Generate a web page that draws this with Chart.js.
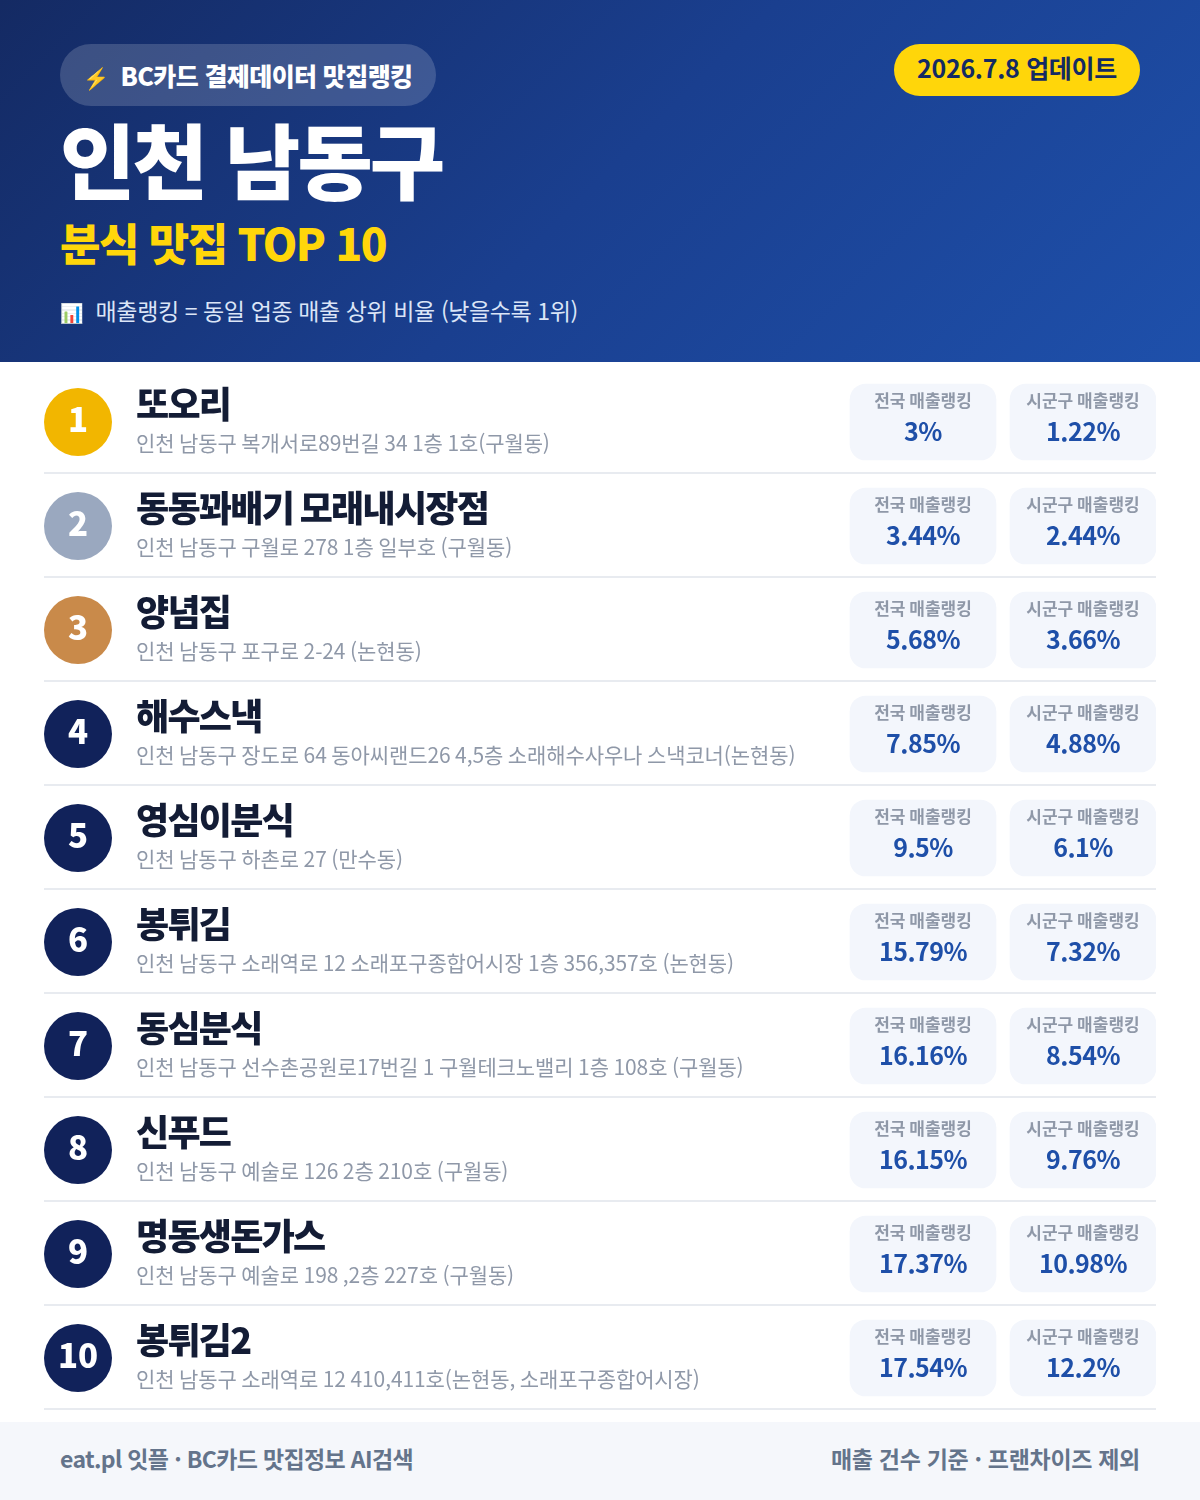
<!DOCTYPE html>
<html lang="ko">
<head>
<meta charset="utf-8">
<title>인천 남동구 분식 맛집 TOP 10</title>
<script src="https://cdn.jsdelivr.net/npm/chart.js@4"></script>
<style>
* { box-sizing: border-box; margin: 0; padding: 0; }
html, body { width: 1200px; height: 1500px; background: #fff; overflow: hidden; }
body { font-family: "Noto Sans CJK KR", "Noto Sans", sans-serif; position: relative; }
#head { position: absolute; left: 0; top: 0; width: 1200px; height: 362px; color: #fff;
  background: linear-gradient(135deg, #142a63 0%, #1a3f8f 50%, #1e50ab 100%); }
#head div { position: absolute; white-space: nowrap; }
#pill { left: 60px; top: 44px; width: 376px; height: 62px; border-radius: 31px; background: rgba(255,255,255,.17);
  font-size: 25px; font-weight: 900; line-height: 62px; letter-spacing: -.6px; padding-left: 23px; }
#pill span { margin-right: 12px; font-size: 21px; }
#date { left: 894px; top: 44px; width: 246px; height: 52px; border-radius: 26px; background: #ffd60a; color: #142a63;
  font-size: 25px; font-weight: 700; line-height: 46px; text-align: center; letter-spacing: -.3px; }
#title { left: 60px; top: 103px; font-size: 82px; font-weight: 900; line-height: 110px; letter-spacing: -3px; }
#sub { left: 60px; top: 211px; font-size: 44px; font-weight: 900; line-height: 62px; color: #ffd60a; letter-spacing: -1.5px; }
#note { left: 60px; top: 292px; font-size: 23px; line-height: 36px; color: #dbe5f7; letter-spacing: -.4px; }
#note span { margin-right: 12px; font-size: 19px; }
#list { position: absolute; left: 0; top: 0; pointer-events: none; }
#foot { position: absolute; left: 0; top: 1422px; width: 1200px; height: 78px; background: #f5f7fb; color: #64748b;
  font-size: 23px; font-weight: 700; line-height: 72px; letter-spacing: -.3px; }
#foot .l { position: absolute; left: 60px; letter-spacing: -.65px; }
#foot .r { position: absolute; right: 60px; }
</style>
</head>
<body>
<div id="head">
  <div id="pill"><span>⚡</span>BC카드 결제데이터 맛집랭킹</div>
  <div id="date">2026.7.8 업데이트</div>
  <div id="title">인천 남동구</div>
  <div id="sub">분식 맛집 TOP 10</div>
  <div id="note"><span>📊</span>매출랭킹 = 동일 업종 매출 상위 비율 (낮을수록 1위)</div>
</div>
<div id="foot"><span class="l">eat.pl 잇플 · BC카드 맛집정보 AI검색</span><span class="r">매출 건수 기준 · 프랜차이즈 제외</span></div>
<div style="position:absolute;left:0;top:0;width:1200px;height:1500px;pointer-events:none"><canvas id="list"></canvas></div>
<script>
const names = ['또오리', '동동꽈배기 모래내시장점', '양념집', '해수스낵', '영심이분식', '봉튀김', '동심분식', '신푸드', '명동생돈가스', '봉튀김2'];
const addresses = [
  '인천 남동구 복개서로89번길 34 1층 1호(구월동)',
  '인천 남동구 구월로 278 1층 일부호 (구월동)',
  '인천 남동구 포구로 2-24 (논현동)',
  '인천 남동구 장도로 64 동아씨랜드26 4,5층 소래해수사우나 스낵코너(논현동)',
  '인천 남동구 하촌로 27 (만수동)',
  '인천 남동구 소래역로 12 소래포구종합어시장 1층 356,357호 (논현동)',
  '인천 남동구 선수촌공원로17번길 1 구월테크노밸리 1층 108호 (구월동)',
  '인천 남동구 예술로 126 2층 210호 (구월동)',
  '인천 남동구 예술로 198 ,2층 227호 (구월동)',
  '인천 남동구 소래역로 12 410,411호(논현동, 소래포구종합어시장)'
];
const nationalRank = [3, 3.44, 5.68, 7.85, 9.5, 15.79, 16.16, 16.15, 17.37, 17.54];
const localRank = [1.22, 2.44, 3.66, 4.88, 6.1, 7.32, 8.54, 9.76, 10.98, 12.2];
const nationalLabel = '전국 매출랭킹';
const localLabel = '시군구 매출랭킹';

const FONT = '"Noto Sans CJK KR", "Noto Sans", sans-serif';
const medal = ['#f2b600', '#9aa8bf', '#c98a4a'];
const navy = '#11225a';
// x 축은 화면 픽셀과 같게 둔다 (44 ~ 1156)
const circleX = 78, textX = 136;
const cardA = [850, 996], cardB = [1010, 1156];

// 행 사이 구분선: 행 경계보다 1px 위에 그린다
const rowLines = {
  id: 'rowLines',
  beforeDatasetsDraw(chart) {
    const { ctx, chartArea, scales: { y } } = chart;
    ctx.save();
    ctx.fillStyle = '#e8ebf0';
    names.forEach((n, i) => {
      ctx.fillRect(chartArea.left, y.getPixelForValue(i + 0.5) - 2, chartArea.right - chartArea.left, 2);
    });
    ctx.restore();
  }
};

const rowText = {
  id: 'rowText',
  afterDatasetsDraw(chart) {
    const { ctx, scales: { x, y } } = chart;
    ctx.save();
    ctx.textBaseline = 'middle';
    names.forEach((name, i) => {
      const cy = y.getPixelForValue(i);
      ctx.textAlign = 'center';
      ctx.fillStyle = '#fff';
      ctx.letterSpacing = '0px';
      ctx.font = '900 33px ' + FONT;
      ctx.fillText(String(i + 1), x.getPixelForValue(circleX), cy - 3);
      ctx.textAlign = 'left';
      ctx.fillStyle = '#131c35';
      ctx.letterSpacing = '-1.7px';
      ctx.font = '900 36px ' + FONT;
      ctx.fillText(name, x.getPixelForValue(textX), cy - 18);
      ctx.fillStyle = '#8f98a8';
      ctx.letterSpacing = '-0.1px';
      ctx.font = '400 21px ' + FONT;
      ctx.fillText(addresses[i], x.getPixelForValue(textX), cy + 21);
      [[cardA, nationalLabel, nationalRank[i]], [cardB, localLabel, localRank[i]]].forEach(([c, label, v]) => {
        const mid = x.getPixelForValue((c[0] + c[1]) / 2);
        ctx.textAlign = 'center';
        ctx.fillStyle = '#8f98a8';
        ctx.letterSpacing = '0px';
        ctx.font = '700 17px ' + FONT;
        ctx.fillText(label, mid, cy - 21);
        ctx.fillStyle = '#1e4fa8';
        ctx.letterSpacing = '-0.5px';
        ctx.font = '700 25px ' + FONT;
        ctx.fillText(v + '%', mid, cy + 9);
      });
    });
    ctx.restore();
  }
};

new Chart(document.getElementById('list'), {
  data: {
    labels: names,
    datasets: [
      { type: 'scatter', data: names.map((n, i) => ({ x: circleX, y: i })), pointRadius: 34, pointHoverRadius: 34,
        backgroundColor: names.map((n, i) => medal[i] || navy), borderWidth: 0 },
      { type: 'bar', data: nationalRank.map(() => cardA), backgroundColor: '#f3f6fc', barThickness: 76, borderRadius: 16, borderSkipped: false, grouped: false },
      { type: 'bar', data: localRank.map(() => cardB), backgroundColor: '#f3f6fc', barThickness: 76, borderRadius: 16, borderSkipped: false, grouped: false }
    ]
  },
  options: {
    indexAxis: 'y',
    responsive: true,
    maintainAspectRatio: false,
    animation: false,
    layout: { padding: { left: 44, right: 44, top: 370, bottom: 90 } },
    plugins: { legend: { display: false }, tooltip: { enabled: false } },
    scales: {
      x: { type: 'linear', min: 44, max: 1156, display: false },
      y: { type: 'category', labels: names, offset: true,
        border: { display: false },
        ticks: { display: false },
        grid: { display: false, drawTicks: false } }
    }
  },
  plugins: [rowLines, rowText]
});
</script>
</body>
</html>
